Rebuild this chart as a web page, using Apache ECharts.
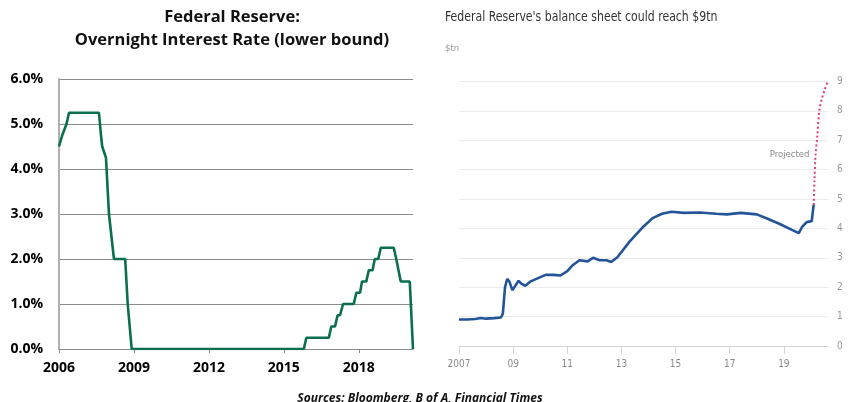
<!DOCTYPE html>
<html>
<head>
<meta charset="utf-8">
<script src="https://cdn.jsdelivr.net/npm/echarts@6/dist/echarts.min.js"></script>
<style>
  html, body { margin: 0; padding: 0; background: #fff; }
  #chart { width: 849px; height: 402px; }
</style>
</head>
<body>
<div id="chart"></div>
<script>
// left chart: fed funds lower bound, [decimal year, %]
const rateYears = [2006, 2009, 2012, 2015, 2018]
const ratePoints = [
  [2006.00, 4.50], [2006.08, 4.50], [2006.13, 4.75], [2006.20, 4.75],
  [2006.30, 5.00], [2006.40, 5.25], [2007.60, 5.25], [2007.68, 4.75],
  [2007.73, 4.50], [2007.80, 4.50], [2007.88, 4.25], [2008.00, 3.00],
  [2008.06, 3.00], [2008.20, 2.00], [2008.65, 2.00], [2008.75, 1.00],
  [2008.81, 1.00], [2008.91, 0.00], [2015.80, 0.00], [2015.90, 0.25],
  [2016.80, 0.25], [2016.90, 0.50], [2017.05, 0.50], [2017.15, 0.75],
  [2017.25, 0.75], [2017.37, 1.00], [2017.80, 1.00], [2017.90, 1.25],
  [2018.05, 1.25], [2018.13, 1.50], [2018.30, 1.50], [2018.40, 1.75],
  [2018.55, 1.75], [2018.64, 2.00], [2018.78, 2.00], [2018.88, 2.25],
  [2019.40, 2.25], [2019.50, 2.00], [2019.55, 2.00], [2019.68, 1.50],
  [2020.04, 1.50], [2020.17, 0.00]
]

// right chart: balance sheet, $tn
const bsYears = [2007, 2009, 2011, 2013, 2015, 2017, 2019]
const bsActual = [
  [2007.00, 0.90], [2007.30, 0.90], [2007.60, 0.92], [2007.80, 0.95],
  [2008.00, 0.93], [2008.30, 0.95], [2008.55, 0.97], [2008.62, 1.10],
  [2008.70, 2.00], [2008.78, 2.28], [2008.86, 2.20], [2008.97, 1.90],
  [2009.08, 2.05], [2009.20, 2.22], [2009.30, 2.12], [2009.45, 2.05],
  [2009.65, 2.20], [2009.90, 2.30], [2010.20, 2.42], [2010.50, 2.42],
  [2010.75, 2.40], [2011.00, 2.55], [2011.20, 2.75], [2011.45, 2.92],
  [2011.75, 2.88], [2011.95, 3.00], [2012.20, 2.92], [2012.45, 2.92],
  [2012.62, 2.86], [2012.85, 3.02], [2013.30, 3.55], [2013.80, 4.05],
  [2014.15, 4.35], [2014.50, 4.50], [2014.85, 4.57], [2015.30, 4.53],
  [2015.90, 4.54], [2016.50, 4.50], [2016.90, 4.48], [2017.40, 4.53],
  [2018.00, 4.48], [2018.40, 4.33], [2018.85, 4.15], [2019.30, 3.95],
  [2019.55, 3.84], [2019.68, 4.06], [2019.85, 4.22], [2020.03, 4.25],
  [2020.08, 4.30], [2020.10, 4.80]
]
const bsProjected = [
  [2020.10, 4.80], [2020.13, 5.60], [2020.17, 6.50], [2020.23, 7.10],
  [2020.31, 8.00], [2020.40, 8.40], [2020.50, 8.70], [2020.62, 9.00]
]
const projectedLabelAt = 2 // index in bsProjected

const boldFont = 'Open Sans'
const ftFont = '"DejaVu Sans Condensed", Roboto, sans-serif'

let myChart = echarts.init(document.getElementById('chart'))

let option = {
  animation: false,
  grid: [
    { left: 59, right: 436, top: 79, bottom: 53 },
    { left: 459, right: 21, top: 81.5, bottom: 56 }
  ],
  xAxis: [
    {
      gridIndex: 0,
      type: 'value',
      min: 2006,
      max: 2020.17,
      splitLine: { show: false },
      axisLine: { lineStyle: { color: '#8c8c8c', width: 1 } },
      axisTick: { customValues: rateYears, length: 4, lineStyle: { color: '#8c8c8c' } },
      axisLabel: {
        customValues: rateYears,
        margin: 12,
        color: '#000',
        fontFamily: boldFont,
        fontWeight: 'bold',
        fontSize: 14,
        formatter: v => String(v)
      }
    },
    {
      gridIndex: 1,
      type: 'value',
      min: 2007,
      max: 2020.63,
      splitLine: { show: false },
      axisLine: { lineStyle: { color: '#d4d4d4', width: 1 } },
      axisTick: { customValues: bsYears, length: 8, lineStyle: { color: '#d4d4d4' } },
      axisLabel: {
        customValues: bsYears,
        margin: 13,
        color: '#8a8a8a',
        fontFamily: ftFont,
        fontSize: 10,
        formatter: v => (v === 2007 ? '2007' : String(v).slice(2))
      }
    }
  ],
  yAxis: [
    {
      gridIndex: 0,
      type: 'value',
      min: 0,
      max: 6,
      interval: 1,
      axisLine: { show: true, lineStyle: { color: '#b0b0b0', width: 2 } },
      axisTick: { show: false },
      splitLine: { lineStyle: { color: '#8c8c8c', width: 1 } },
      axisLabel: {
        margin: 16,
        color: '#000',
        fontFamily: boldFont,
        fontWeight: 'bold',
        fontSize: 14,
        formatter: v => v.toFixed(1) + '%'
      }
    },
    {
      gridIndex: 1,
      type: 'value',
      position: 'right',
      min: 0,
      max: 9,
      interval: 1,
      axisLine: { show: false },
      axisTick: { show: false },
      splitLine: { lineStyle: { color: '#ebebeb', width: 1 } },
      axisLabel: {
        margin: 9,
        color: '#999',
        fontFamily: ftFont,
        fontSize: 10
      }
    }
  ],
  series: [
    {
      name: 'rate',
      type: 'line',
      xAxisIndex: 0,
      yAxisIndex: 0,
      data: ratePoints,
      showSymbol: false,
      lineStyle: { color: '#0b6e4f', width: 2.6 }
    },
    {
      name: 'balance sheet',
      type: 'line',
      xAxisIndex: 1,
      yAxisIndex: 1,
      data: bsActual,
      showSymbol: false,
      lineStyle: { color: '#225497', width: 2.6 }
    },
    {
      name: 'projected',
      type: 'line',
      xAxisIndex: 1,
      yAxisIndex: 1,
      showSymbol: true,
      symbol: 'circle',
      symbolSize: 0,
      smooth: 0.3,
      z: 1,
      data: bsProjected.map((p, i) => i === projectedLabelAt ? {
        value: p,
        label: {
          show: true,
          position: 'left',
          distance: 6,
          formatter: 'Projected',
          color: '#8a8a8a',
          fontFamily: ftFont,
          fontSize: 9.5
        }
      } : p),
      lineStyle: { color: '#e0406f', width: 2, type: [2, 2.5] }
    }
  ],
  graphic: [
    {
      type: 'text', x: 232, y: 6,
      style: {
        text: 'Federal Reserve:\nOvernight Interest Rate (lower bound)',
        textAlign: 'center',
        font: 'bold 16.5px "Open Sans"',
        lineHeight: 23,
        fill: '#111'
      }
    },
    {
      // FT title font is narrow, squeeze it a bit
      type: 'text', x: 445, y: 10, scaleX: 0.9,
      style: {
        text: "Federal Reserve's balance sheet could reach $9tn",
        font: '13.5px "DejaVu Sans Condensed", Roboto, sans-serif',
        fill: '#333'
      }
    },
    {
      type: 'text', x: 445, y: 44,
      style: { text: '$tn', font: '9.5px "DejaVu Sans Condensed", Roboto, sans-serif', fill: '#999' }
    },
    {
      type: 'text', x: 420, y: 393,
      style: {
        text: 'Sources: Bloomberg, B of A, Financial Times',
        textAlign: 'center',
        font: 'italic bold 12px "Open Sans"',
        fill: '#111'
      }
    }
  ]
}

myChart.setOption(option)
window.addEventListener('resize', function () {
  myChart.resize()
})
</script>
</body>
</html>
